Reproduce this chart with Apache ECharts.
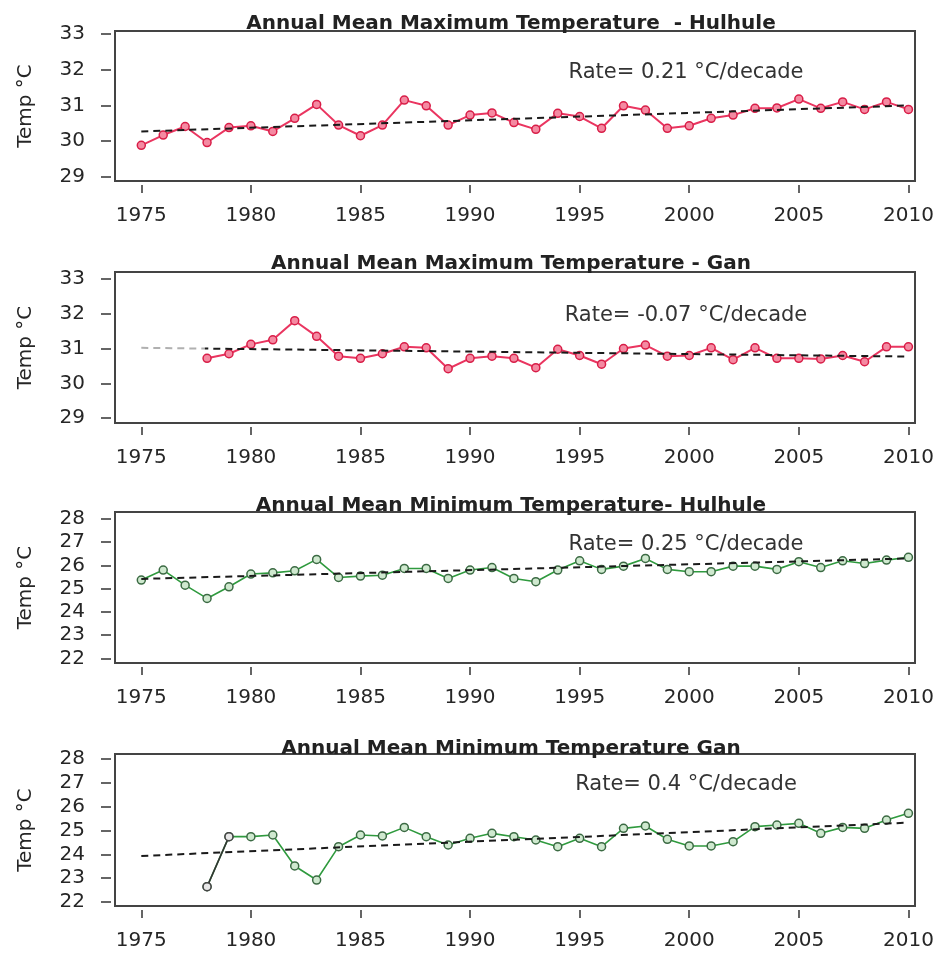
<!DOCTYPE html>
<html>
<head>
<meta charset="utf-8">
<script src="https://cdn.jsdelivr.net/npm/echarts/dist/echarts.min.js"></script>
<style>
html,body{margin:0;padding:0;background:#fff;}
#chart{width:938px;height:956px;}
</style>
</head>
<body>
<div id="chart"></div>
<script>
// ---------- data ----------
const yearsHulhule = [1975,1976,1977,1978,1979,1980,1981,1982,1983,1984,1985,1986,1987,1988,1989,1990,1991,1992,1993,1994,1995,1996,1997,1998,1999,2000,2001,2002,2003,2004,2005,2006,2007,2008,2009,2010];
const yearsGan = [1978,1979,1980,1981,1982,1983,1984,1985,1986,1987,1988,1989,1990,1991,1992,1993,1994,1995,1996,1997,1998,1999,2000,2001,2002,2003,2004,2005,2006,2007,2008,2009,2010];

const maxHulhule = [29.88,30.17,30.41,29.96,30.38,30.43,30.27,30.64,31.03,30.45,30.15,30.45,31.15,30.99,30.45,30.73,30.79,30.52,30.33,30.78,30.69,30.36,30.99,30.87,30.36,30.43,30.64,30.73,30.92,30.93,31.18,30.92,31.10,30.89,31.10,30.89];
const maxGan = [30.72,30.85,31.12,31.25,31.80,31.35,30.78,30.72,30.85,31.05,31.02,30.42,30.72,30.78,30.72,30.45,30.98,30.80,30.55,31.00,31.10,30.78,30.80,31.02,30.68,31.02,30.72,30.72,30.70,30.80,30.62,31.05,31.05];
const minHulhule = [25.37,25.80,25.15,24.58,25.08,25.63,25.68,25.77,26.26,25.48,25.54,25.58,25.87,25.87,25.44,25.80,25.91,25.44,25.30,25.80,26.20,25.83,25.97,26.30,25.83,25.73,25.73,25.97,25.97,25.83,26.16,25.91,26.20,26.08,26.23,26.35];
const minGan = [22.64,24.74,24.74,24.81,23.51,22.92,24.32,24.81,24.77,25.13,24.74,24.39,24.67,24.88,24.74,24.60,24.32,24.67,24.32,25.09,25.19,24.63,24.35,24.35,24.53,25.16,25.23,25.30,24.88,25.13,25.09,25.44,25.72];

const trendYears = [1975, 2010];
const trendMaxHulhule = [30.27, 31.00];
const trendMaxGan = [31.02, 30.77];
const trendMinHulhule = [25.42, 26.30];
const trendMinGan = [23.93, 25.33];

const xTickLabels = [1975,1980,1985,1990,1995,2000,2005,2010];
const yTicksMax = [29,30,31,32,33];
const yTicksMin = [22,23,24,25,26,27,28];

const titles = [
  'Annual Mean Maximum Temperature  - Hulhule',
  'Annual Mean Maximum Temperature - Gan',
  'Annual Mean Minimum Temperature- Hulhule',
  'Annual Mean Minimum Temperature Gan'
];
const rateTexts = ['Rate= 0.21 \u00B0C/decade','Rate= -0.07 \u00B0C/decade','Rate= 0.25 \u00B0C/decade','Rate= 0.4 \u00B0C/decade'];
const yAxisName = 'Temp \u00B0C';

// ---------- layout / style ----------
const FONT = '"DejaVu Sans", sans-serif';
const panels = [
  {top:31,  height:150, ymin:28.88, ymax:33.09, ticks:yTicksMax, years:yearsHulhule, vals:maxHulhule, trend:trendMaxHulhule, kind:'max', titleY:24, rateY:73},
  {top:272, height:151, ymin:28.86, ymax:33.2,  ticks:yTicksMax, years:yearsGan, vals:maxGan, trend:trendMaxGan, kind:'max', titleY:264, rateY:316},
  {top:512, height:151, ymin:21.8,  ymax:28.3,  ticks:yTicksMin, years:yearsHulhule, vals:minHulhule, trend:trendMinHulhule, kind:'min', titleY:506, rateY:545},
  {top:754, height:152, ymin:21.83, ymax:28.21, ticks:yTicksMin, years:yearsGan, vals:minGan, trend:trendMinGan, kind:'min', titleY:749, rateY:785}
];
const GRID_LEFT = 115, GRID_WIDTH = 800;
const axisColor = '#333';
const textColor = '#262626';

const grids = [], xAxes = [], yAxes = [], series = [], graphics = [];

panels.forEach((p, i) => {
  grids.push({left:GRID_LEFT, width:GRID_WIDTH, top:p.top, height:p.height, show:true, borderColor:'#444', borderWidth:2, backgroundColor:'transparent'});
  xAxes.push({
    type:'value', gridIndex:i, min:1973.8, max:2010.3, offset:4,
    axisLine:{show:false}, splitLine:{show:false},
    axisTick:{show:true, length:8, lineStyle:{color:axisColor, width:1.5}, customValues:xTickLabels},
    axisLabel:{show:true, margin:21, fontSize:20, fontFamily:FONT, color:textColor, customValues:xTickLabels, formatter:v=>String(v)}
  });
  yAxes.push({
    type:'value', gridIndex:i, min:p.ymin, max:p.ymax, offset:4,
    axisLine:{show:false}, splitLine:{show:false},
    axisTick:{show:true, length:10, lineStyle:{color:axisColor, width:1.5}, customValues:p.ticks},
    axisLabel:{show:true, margin:26, fontSize:20, fontFamily:FONT, color:textColor, customValues:p.ticks, formatter:v=>String(v)},
    name:yAxisName, nameLocation:'middle', nameRotate:90, nameGap:75,
    nameTextStyle:{fontSize:20, fontFamily:FONT, color:textColor}
  });

  const isMax = p.kind === 'max';
  const lineColor = isMax ? '#ea3560' : '#2f9a3e';
  const markFill = isMax ? '#f48aa2' : '#cfe9cf';
  const markBorder = isMax ? '#d81d47' : '#3b6a43';
  const data = p.years.map((y, k) => [y, p.vals[k]]);
  series.push({
    type:'line', xAxisIndex:i, yAxisIndex:i, data:data,
    symbol:'circle', symbolSize:8, showSymbol:true,
    lineStyle:{color:lineColor, width:isMax?2:1.6},
    itemStyle:{color:markFill, borderColor:markBorder, borderWidth:1.5},
    z:2, silent:true
  });
  if (i === 3) {
    // first segment drawn dark in the reference
    series.push({
      type:'line', xAxisIndex:i, yAxisIndex:i,
      data:[[p.years[0], p.vals[0]], [p.years[1], p.vals[1]]],
      symbol:'circle', symbolSize:8,
      lineStyle:{color:'#333', width:1.6},
      itemStyle:{color:'#e8e8e8', borderColor:'#444', borderWidth:1.5},
      z:3, silent:true
    });
  }
  let trendColor = '#1a1a1a';
  if (i === 1) {
    trendColor = new echarts.graphic.LinearGradient(0,0,1,0,[
      {offset:0, color:'#b0b0b0'},{offset:0.085, color:'#b0b0b0'},
      {offset:0.086, color:'#1a1a1a'},{offset:1, color:'#1a1a1a'}
    ]);
  }
  series.push({
    type:'line', xAxisIndex:i, yAxisIndex:i,
    data:trendYears.map((y,k)=>[y, p.trend[k]]),
    symbol:'none', lineStyle:{color:trendColor, width:2, type:[7,5]},
    z:4, silent:true
  });

  graphics.push({type:'text', x:GRID_LEFT + GRID_WIDTH/2 - 4, y:p.titleY, z:10,
    style:{text:titles[i], textAlign:'center', textVerticalAlign:'middle', font:'bold 20px ' + FONT, fill:'#222'}});
  graphics.push({type:'text', x:686, y:p.rateY, z:10,
    style:{text:rateTexts[i], textAlign:'center', textVerticalAlign:'middle', font:'21px ' + FONT, fill:'#333'}});
});

const chart = echarts.init(document.getElementById('chart'), null, {renderer:'canvas'});
chart.setOption({
  animation:false,
  backgroundColor:'#ffffff',
  grid:grids, xAxis:xAxes, yAxis:yAxes, series:series, graphic:graphics
});
</script>
</body>
</html>
